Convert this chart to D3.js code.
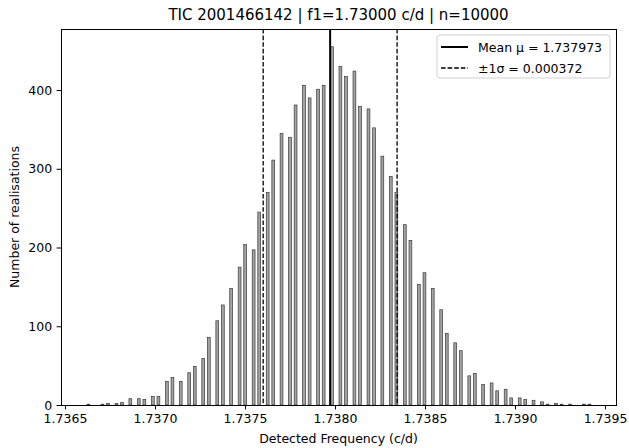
<!DOCTYPE html>
<html>
<head>
<meta charset="utf-8">
<script src="https://cdn.jsdelivr.net/npm/d3@7"></script>
<style>
	body { margin: 0; background: #fff; }
	text { font-family: "DejaVu Sans", sans-serif; fill: #000; }
</style>
</head>
<body>
<svg id="chart" width="629" height="448"></svg>
<script>
// histogram bin centres (c/d)
const binCentres = [
	1.73663, 1.736708, 1.736739, 1.736786, 1.736817, 1.736863, 1.73691, 1.736941,
	1.736988, 1.737019, 1.737066, 1.737097, 1.737143, 1.73719, 1.737221, 1.737268,
	1.737299, 1.737346, 1.737377, 1.737423, 1.73747, 1.737501, 1.737548, 1.737579,
	1.737626, 1.737657, 1.737703, 1.73775, 1.737781, 1.737828, 1.737859, 1.737906,
	1.737937, 1.737983, 1.73803, 1.738061, 1.738108, 1.738139, 1.738186, 1.738217,
	1.738263, 1.73831, 1.738341, 1.738388, 1.738419, 1.738466, 1.738497, 1.738543,
	1.73859, 1.738621, 1.738668, 1.738699, 1.738746, 1.738777, 1.738823, 1.73887,
	1.738901, 1.738948, 1.738979, 1.739026, 1.739057, 1.739103, 1.73915, 1.739181,
	1.739228, 1.739259, 1.739306, 1.739383, 1.739414
];
const counts = [
	1, 1, 2, 2, 3, 8, 8, 7,
	11, 11, 30, 35, 30, 41, 49, 59,
	86, 107, 127, 148, 175, 204, 197, 245,
	270, 311, 345, 340, 381, 406, 390, 401,
	406, 455, 430, 417, 424, 379, 376, 352,
	316, 290, 270, 229, 209, 153, 168, 148,
	121, 91, 79, 69, 37, 40, 26, 28,
	18, 20, 9, 9, 7, 6, 4, 1,
	2, 1, 1, 1, 1
];
const binWidth = 0.0000155556;
const meanFreq = 1.737973;
const sigma = 0.000372;
const xTicks = [1.7365, 1.737, 1.7375, 1.738, 1.7385, 1.739, 1.7395];
const yTicks = [0, 100, 200, 300, 400];
const title = "TIC 2001466142 | f1=1.73000 c/d | n=10000";

const svg = d3.select("#chart");
const plotLeft = 61, plotRight = 616, plotTop = 29, plotBottom = 405;

const xScale = d3.scaleLinear().domain([1.7364778, 1.7395611]).range([plotLeft, plotRight]);
const yScale = d3.scaleLinear().domain([0, 477.5]).range([plotBottom, plotTop]);

const bins = binCentres.map((f, i) => ({ f: f, n: counts[i] }));

// bars
svg.append("g")
	.selectAll("rect")
	.data(bins)
	.enter()
	.append("rect")
	.attr("x", (d) => xScale(d.f - binWidth / 2))
	.attr("width", (d) => xScale(d.f + binWidth / 2) - xScale(d.f - binWidth / 2))
	.attr("y", (d) => yScale(d.n))
	.attr("height", (d) => yScale(0) - yScale(d.n))
	.attr("fill", "#a3a3a3")
	.attr("stroke", "#3a3a3a")
	.attr("stroke-width", 0.7);

// mean and sigma lines
svg.append("line")
	.attr("x1", xScale(meanFreq)).attr("x2", xScale(meanFreq))
	.attr("y1", plotTop).attr("y2", plotBottom)
	.attr("stroke", "#000").attr("stroke-width", 2);

[meanFreq - sigma, meanFreq + sigma].forEach((f) => {
	svg.append("line")
		.attr("x1", xScale(f)).attr("x2", xScale(f))
		.attr("y1", plotTop).attr("y2", plotBottom)
		.attr("stroke", "#000").attr("stroke-width", 1.3)
		.attr("stroke-dasharray", "4.6,2");
});

// axes
const xAxis = svg.append("g")
	.attr("transform", `translate(0,${plotBottom})`)
	.call(d3.axisBottom(xScale).tickValues(xTicks).tickFormat(d3.format(".4f"))
		.tickSize(4.4).tickPadding(4.4).tickSizeOuter(0));
const yAxis = svg.append("g")
	.attr("transform", `translate(${plotLeft},0)`)
	.call(d3.axisLeft(yScale).tickValues(yTicks).tickFormat(d3.format("d"))
		.tickSize(4.4).tickPadding(4.4).tickSizeOuter(0));
[xAxis, yAxis].forEach((g) => {
	g.select(".domain").remove();
	g.selectAll("text").style("font-size", "12.5px").style("font-family", "DejaVu Sans");
	g.selectAll("line").attr("stroke", "#000").attr("stroke-width", 1);
});

// frame
svg.append("rect")
	.attr("x", plotLeft).attr("y", plotTop)
	.attr("width", plotRight - plotLeft).attr("height", plotBottom - plotTop)
	.attr("fill", "none").attr("stroke", "#000").attr("stroke-width", 1)
	.attr("shape-rendering", "crispEdges");

// labels
svg.append("text")
	.attr("x", (plotLeft + plotRight) / 2).attr("y", 20)
	.attr("text-anchor", "middle")
	.style("font-size", "15px")
	.text(title);

svg.append("text")
	.attr("x", (plotLeft + plotRight) / 2).attr("y", 443)
	.attr("text-anchor", "middle")
	.style("font-size", "12.5px")
	.text("Detected Frequency (c/d)");

svg.append("text")
	.attr("transform", `translate(19,${(plotTop + plotBottom) / 2}) rotate(-90)`)
	.attr("text-anchor", "middle")
	.style("font-size", "12.5px")
	.text("Number of realisations");

// legend
const legend = svg.append("g");
legend.append("rect")
	.attr("x", 437).attr("y", 35).attr("width", 173).attr("height", 43)
	.attr("rx", 3)
	.attr("fill", "#fff").attr("fill-opacity", 0.8)
	.attr("stroke", "#d0d0d0").attr("stroke-width", 1);

const legendItems = [
	{ label: "Mean \u03bc = " + meanFreq.toFixed(6), dash: null, width: 2 },
	{ label: "\u00b11\u03c3 = " + sigma.toFixed(6), dash: "4.6,2", width: 1.3 }
];
legendItems.forEach((d, i) => {
	const y = 47 + i * 21;
	legend.append("line")
		.attr("x1", 441).attr("x2", 468).attr("y1", y).attr("y2", y)
		.attr("stroke", "#000").attr("stroke-width", d.width)
		.attr("stroke-dasharray", d.dash);
	legend.append("text")
		.attr("x", 478).attr("y", y)
		.attr("dy", "0.36em")
		.style("font-size", "12.5px")
		.text(d.label);
});
</script>
</body>
</html>
